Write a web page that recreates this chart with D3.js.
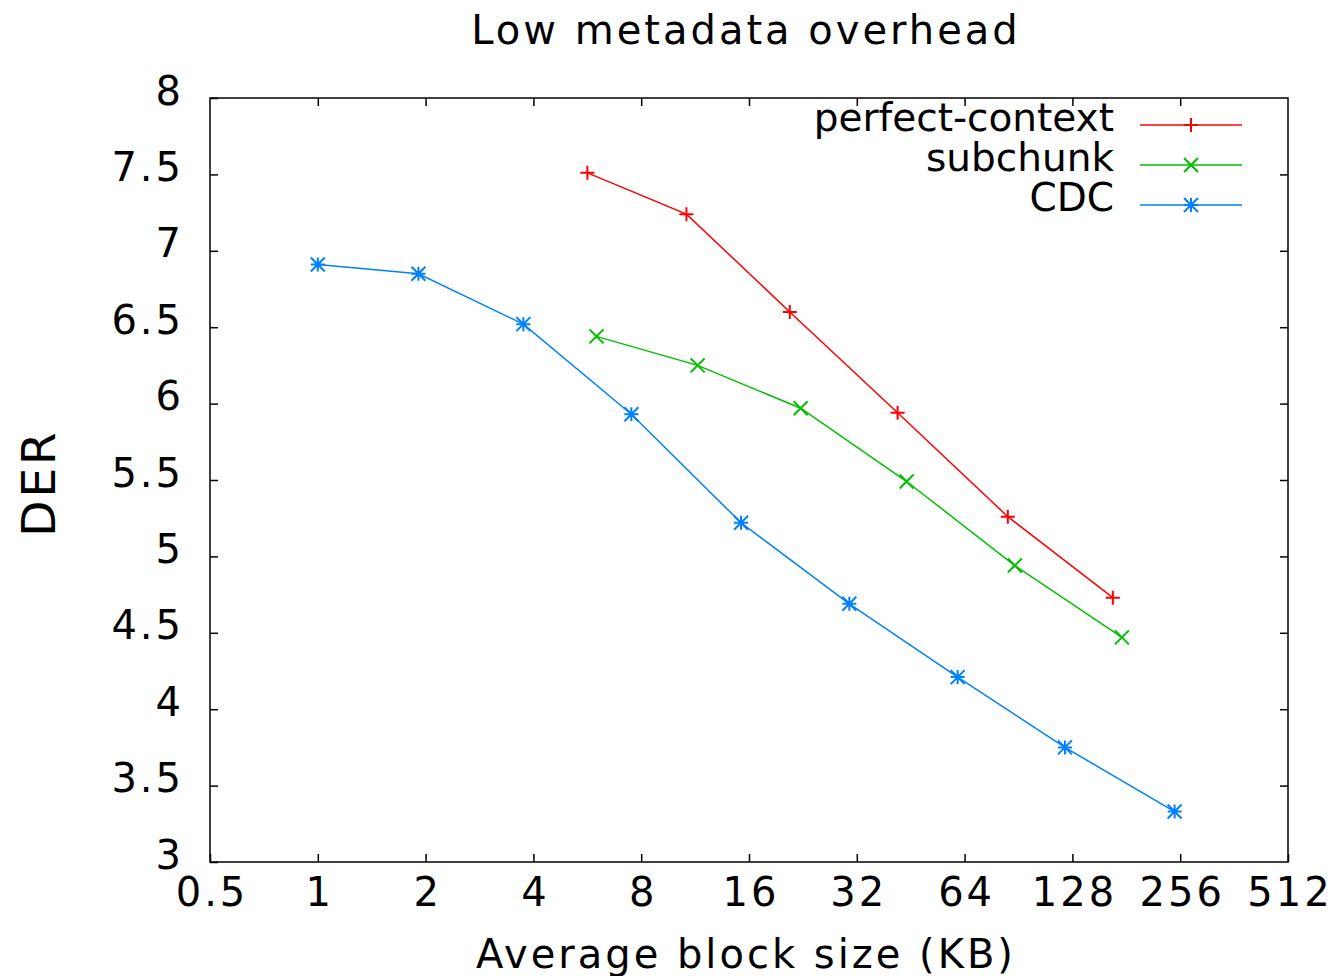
<!DOCTYPE html>
<html><head><meta charset="utf-8">
<script src="https://cdn.jsdelivr.net/npm/d3@7"></script>
<style>body{margin:0;background:#fff}text{font-family:"DejaVu Sans",sans-serif;fill:#000;letter-spacing:3px}text.leg{letter-spacing:0}</style>
</head><body>
<svg id="c" width="1334" height="976"></svg>
<script>
const xTicks = [0.5,1,2,4,8,16,32,64,128,256,512];
const yTicks = [3,3.5,4,4.5,5,5.5,6,6.5,7,7.5,8];
const seriesNames = ["perfect-context","subchunk","CDC"];
const seriesColors = ["#ff0000","#00c000","#0080ff"];
const pcX = [5.66,10.7,20.8,41.6,84.5,166];
const pcY = [7.51,7.24,6.60,5.94,5.26,4.73];
const scX = [6.0,11.5,22.3,44.1,88.4,176];
const scY = [6.44,6.25,5.97,5.49,4.94,4.47];
const cdcX = [1,1.91,3.75,7.51,15.2,30.5,61.2,122,247];
const cdcY = [6.91,6.85,6.52,5.93,5.22,4.69,4.21,3.75,3.33];

const L=210,R=1288,T=98,B=862;
const svg=d3.select("#c");
const x=d3.scaleLog().base(2).domain([0.5,512]).range([L,R]);
const y=d3.scaleLinear().domain([3,8]).range([B,T]);
const fs=40;

const fmtY=d=>String(d);
const fmtX=d=>String(d);
const gx=svg.append("g").attr("transform",`translate(0,${B})`)
  .call(d3.axisBottom(x).tickValues(xTicks).tickFormat(fmtX).tickSizeInner(-8).tickSizeOuter(0).tickPadding(20));
const gy=svg.append("g").attr("transform",`translate(${L},0)`)
  .call(d3.axisLeft(y).tickValues(yTicks).tickFormat(fmtY).tickSizeInner(-8).tickSizeOuter(0).tickPadding(26));
const gt=svg.append("g").attr("transform",`translate(0,${T})`)
  .call(d3.axisTop(x).tickValues(xTicks.slice(1,-1)).tickFormat("").tickSizeInner(-8).tickSizeOuter(0));
const gr=svg.append("g").attr("transform",`translate(${R},0)`)
  .call(d3.axisRight(y).tickValues(yTicks.slice(1,-1)).tickFormat("").tickSizeInner(-8).tickSizeOuter(0));
[gx,gy,gt,gr].forEach(g=>{g.select(".domain").remove();g.selectAll("line").attr("stroke","#000").attr("stroke-width",1.5);g.selectAll("text").attr("font-size",fs).attr("font-family","DejaVu Sans").attr("fill","#000");});
gx.selectAll("text").attr("dy","0.6em").attr("dx",1.5);
gy.selectAll("text").attr("dy","0.15em");
svg.append("rect").attr("x",L).attr("y",T).attr("width",R-L).attr("height",B-T).attr("fill","none").attr("stroke","#000").attr("stroke-width",1.5);

svg.append("text").attr("x",746).attr("y",44).attr("text-anchor","middle").attr("font-size",40).text("Low metadata overhead");
svg.append("text").attr("x",746).attr("y",968).attr("text-anchor","middle").attr("font-size",40).text("Average block size (KB)");
svg.append("text").attr("transform",`translate(55,${(T+B)/2+3}) rotate(-90)`).attr("text-anchor","middle").attr("font-size",47).text("DER");

const data=[pcX.map((v,i)=>[v,pcY[i]]),scX.map((v,i)=>[v,scY[i]]),cdcX.map((v,i)=>[v,cdcY[i]])];
const line=d3.line().x(d=>x(d[0])).y(d=>y(d[1]));
function marker(g,cx,cy,k,color){
  const s=7;
  const p=d3.path();
  if(k===0||k===2){p.moveTo(cx-s,cy);p.lineTo(cx+s,cy);p.moveTo(cx,cy-s);p.lineTo(cx,cy+s);}
  if(k===1||k===2){p.moveTo(cx-s,cy-s);p.lineTo(cx+s,cy+s);p.moveTo(cx-s,cy+s);p.lineTo(cx+s,cy-s);}
  g.append("path").attr("d",p.toString()).attr("stroke",color).attr("stroke-width",2).attr("fill","none");
}
data.forEach((ds,k)=>{
  const g=svg.append("g");
  g.append("path").attr("d",line(ds)).attr("fill","none").attr("stroke",seriesColors[k]).attr("stroke-width",1.5);
  ds.forEach(d=>marker(g,x(d[0]),y(d[1]),k,seriesColors[k]));
});

seriesNames.forEach((n,k)=>{
  const ly=125+k*40;
  svg.append("text").attr("class","leg").attr("x",1114).attr("y",ly+6).attr("text-anchor","end").attr("font-size",39).text(n);
  svg.append("line").attr("x1",1140).attr("x2",1242).attr("y1",ly).attr("y2",ly).attr("stroke",seriesColors[k]).attr("stroke-width",1.5);
  marker(svg,1191,ly,k,seriesColors[k]);
});
</script>
</body></html>
